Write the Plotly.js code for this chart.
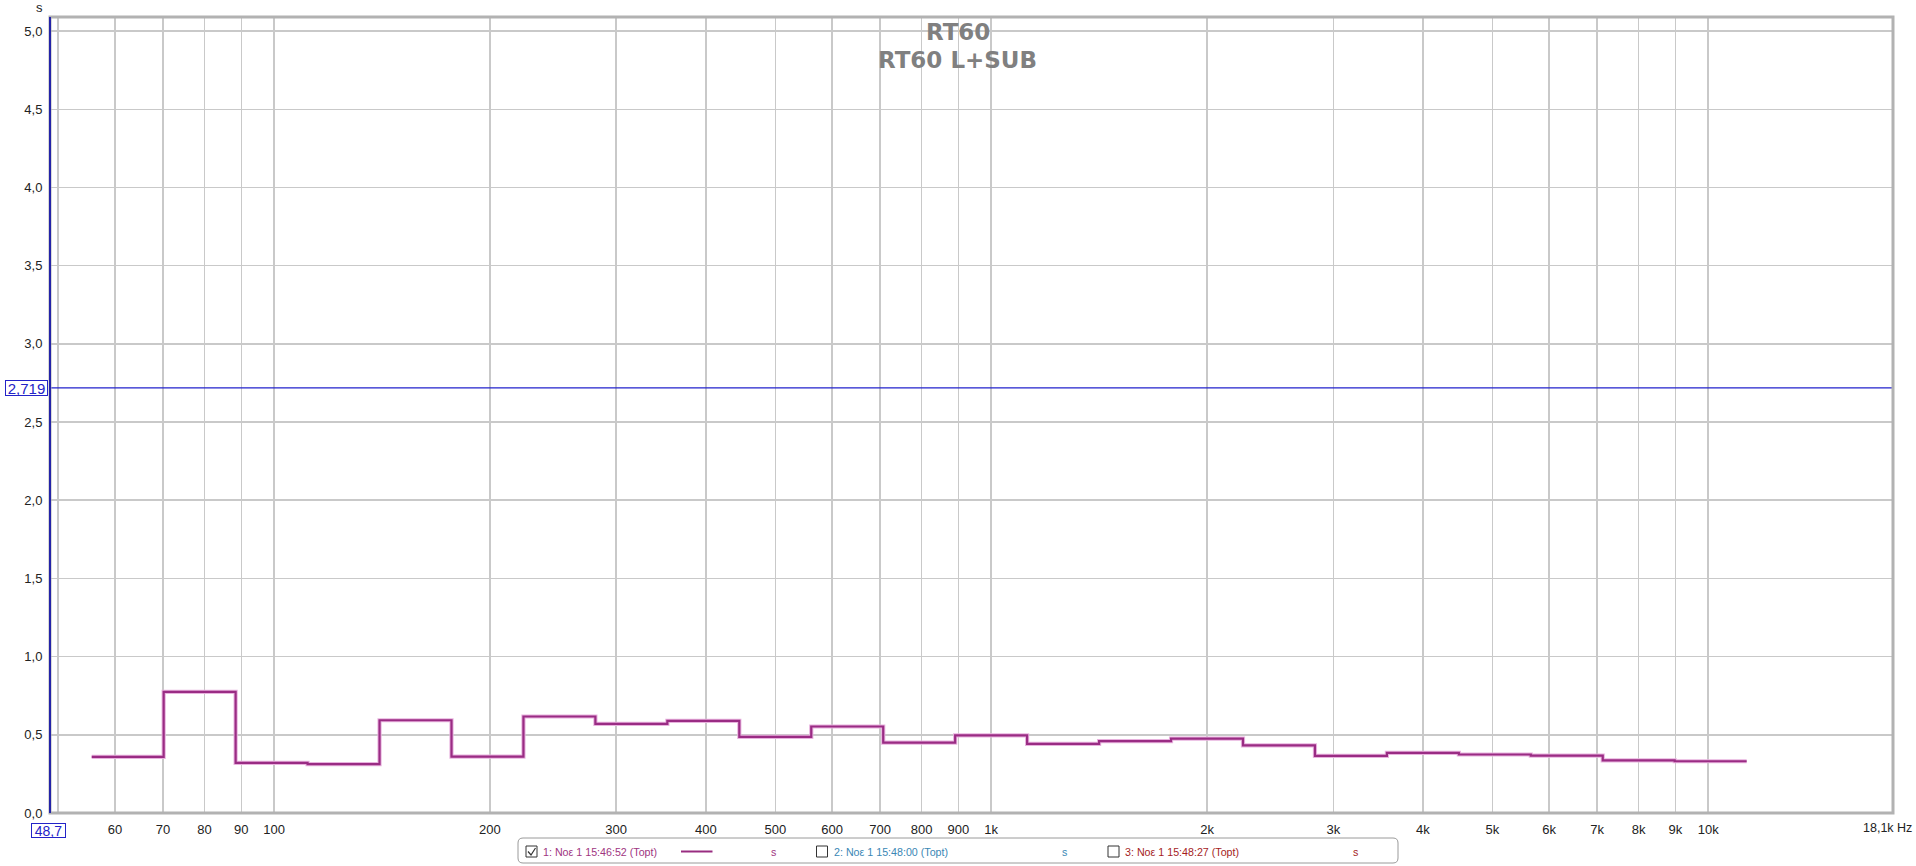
<!DOCTYPE html>
<html>
<head>
<meta charset="utf-8">
<script src="https://cdn.plot.ly/plotly-3.0.1.min.js"></script>
<style>html,body{margin:0;padding:0;background:#fff;}#chart{width:1916px;height:866px;}</style>
</head>
<body>
<div id="chart"></div>
<script>
// Data (1/3-octave RT60 bands)
const bandEdgesHz = [55.68, 70.15, 88.39, 111.36, 140.31, 176.78, 222.72, 280.62, 353.55, 445.45, 561.23, 707.11, 890.90, 1122.46, 1414.21, 1781.80, 2244.92, 2828.43, 3563.59, 4489.85, 5656.85, 7127.19, 8979.70, 11313.71];
const rt60Seconds = [0.359, 0.774, 0.321, 0.312, 0.593, 0.361, 0.617, 0.570, 0.589, 0.487, 0.553, 0.450, 0.497, 0.442, 0.459, 0.476, 0.433, 0.365, 0.385, 0.374, 0.367, 0.337, 0.331];
const markerLevel = 2.719;
const xMin = 48.7, xMax = 18100;
const xTickVals = [50, 60, 70, 80, 90, 100, 200, 300, 400, 500, 600, 700, 800, 900, 1000, 2000, 3000, 4000, 5000, 6000, 7000, 8000, 9000, 10000];
const xTickText = ['', '60', '70', '80', '90', '100', '200', '300', '400', '500', '600', '700', '800', '900', '1k', '2k', '3k', '4k', '5k', '6k', '7k', '8k', '9k', '10k'];
const yTickVals = [0, 0.5, 1, 1.5, 2, 2.5, 3, 3.5, 4, 4.5, 5];
const yTickText = ['0,0', '0,5', '1,0', '1,5', '2,0', '2,5', '3,0', '3,5', '4,0', '4,5', '5,0'];
const legendNames = ['1: Noε 1 15:46:52 (Topt)', '2: Noε 1 15:48:00 (Topt)', '3: Noε 1 15:48:27 (Topt)'];
const titleLines = ['RT60', 'RT60 L+SUB'];

// geometry helpers (pixel -> paper)
const L = 50, T = 17, W = 1843, H = 796;
const px = x => (x - L) / W;
const py = y => (T + H - y) / H;

const stepY = rt60Seconds.concat([rt60Seconds[rt60Seconds.length - 1]]);

const traces = [
  {
    x: bandEdgesHz, y: stepY, type: 'scatter', mode: 'lines',
    line: {shape: 'hv', color: '#e8b2de', width: 4.2},
    hoverinfo: 'skip', showlegend: false
  },
  {
    x: bandEdgesHz, y: stepY, type: 'scatter', mode: 'lines',
    line: {shape: 'hv', color: '#9a2c84', width: 2.2},
    hoverinfo: 'skip', showlegend: false
  },
  {
    x: [xMin, xMax], y: [markerLevel, markerLevel], type: 'scatter', mode: 'lines',
    line: {color: '#2222cc', width: 1.2}, hoverinfo: 'skip', showlegend: false
  }
];

function roundRect(x0, y0, x1, y1, r) {
  const p = (x, y) => px(x) + ',' + py(y);
  return 'M' + p(x0 + r, y0) + ' L' + p(x1 - r, y0) + ' Q' + p(x1, y0) + ' ' + p(x1, y0 + r) +
    ' L' + p(x1, y1 - r) + ' Q' + p(x1, y1) + ' ' + p(x1 - r, y1) +
    ' L' + p(x0 + r, y1) + ' Q' + p(x0, y1) + ' ' + p(x0, y1 - r) +
    ' L' + p(x0, y0 + r) + ' Q' + p(x0, y0) + ' ' + p(x0 + r, y0) + ' Z';
}
function box(x0, y0, x1, y1, color, width) {
  return {type: 'rect', xref: 'paper', yref: 'paper', x0: px(x0), x1: px(x1), y0: py(y1), y1: py(y0),
          line: {color: color, width: width}, fillcolor: 'rgba(255,255,255,0)', layer: 'above'};
}

const legendY = 851.5;
const shapes = [
  // plot frame
  {type: 'rect', xref: 'paper', yref: 'paper', x0: 0, x1: 1, y0: 0, y1: 1,
   line: {color: '#b2b2b2', width: 3}, layer: 'above'},
  // blue left axis
  {type: 'line', xref: 'paper', yref: 'paper', x0: 0, x1: 0, y0: 0, y1: 1,
   line: {color: '#2424a8', width: 2}, layer: 'above'},
  // legend box
  {type: 'path', xref: 'paper', yref: 'paper', path: roundRect(518, 838, 1398, 863, 5),
   line: {color: '#9a9a9a', width: 1}, fillcolor: '#ffffff', layer: 'above'},
  // checkboxes
  box(526, 846, 537, 857, '#333333', 1),
  box(816.5, 846, 827.5, 857, '#333333', 1),
  box(1108, 846, 1119, 857, '#333333', 1),
  // check mark
  {type: 'path', xref: 'paper', yref: 'paper',
   path: 'M' + px(528) + ',' + py(851.5) + ' L' + px(531) + ',' + py(855) + ' L' + px(535.5) + ',' + py(848),
   line: {color: '#333333', width: 1.2}, layer: 'above'},
  // legend line sample
  {type: 'line', xref: 'paper', yref: 'paper', x0: px(681), x1: px(712.5), y0: py(legendY), y1: py(legendY),
   line: {color: '#982c80', width: 2}, layer: 'above'}
];

const legFont = {family: 'Liberation Sans, Arial, sans-serif', size: 10.7};
const annotations = [
  {text: titleLines[0], xref: 'paper', yref: 'paper', x: px(958), y: py(32), xanchor: 'center', yanchor: 'middle',
   showarrow: false, font: {family: 'DejaVu Sans', size: 23, color: '#808080', weight: 'bold'}},
  {text: titleLines[1], xref: 'paper', yref: 'paper', x: px(957), y: py(59.5), xanchor: 'center', yanchor: 'middle',
   showarrow: false, font: {family: 'DejaVu Sans', size: 23, color: '#808080', weight: 'bold'}},
  {text: 's', xref: 'paper', yref: 'paper', x: px(39), y: py(7), xanchor: 'center', yanchor: 'middle',
   showarrow: false, font: {family: 'Liberation Sans, Arial', size: 13, color: '#222'}},
  {text: '18,1k Hz', xref: 'paper', yref: 'paper', x: px(1914), y: py(828), xanchor: 'right', yanchor: 'middle',
   showarrow: false, font: {family: 'Liberation Sans, Arial', size: 12.5, color: '#222'}},
  {text: '2,719', xref: 'paper', yref: 'y', x: px(26.5), y: markerLevel, xanchor: 'center', yanchor: 'middle',
   showarrow: false, font: {family: 'Liberation Sans, Arial', size: 15, color: '#2323c8'},
   width: 41, height: 14, align: 'center', valign: 'middle',
   bordercolor: '#2323c8', borderwidth: 1, borderpad: 0, bgcolor: '#ffffff'},
  {text: '48,7', xref: 'paper', yref: 'paper', x: px(48.5), y: py(830), xanchor: 'center', yanchor: 'middle',
   showarrow: false, font: {family: 'Liberation Sans, Arial', size: 14, color: '#2323c8'},
   width: 33, height: 13, align: 'center', valign: 'middle',
   bordercolor: '#2323c8', borderwidth: 1, borderpad: 0, bgcolor: '#ffffff'},
  {text: legendNames[0], xref: 'paper', yref: 'paper', x: px(541), y: py(legendY), xanchor: 'left', yanchor: 'middle',
   showarrow: false, font: Object.assign({color: '#a0357f'}, legFont)},
  {text: 's', xref: 'paper', yref: 'paper', x: px(773.5), y: py(legendY), xanchor: 'center', yanchor: 'middle',
   showarrow: false, font: Object.assign({color: '#a0357f'}, legFont)},
  {text: legendNames[1], xref: 'paper', yref: 'paper', x: px(832), y: py(legendY), xanchor: 'left', yanchor: 'middle',
   showarrow: false, font: Object.assign({color: '#3a87b5'}, legFont)},
  {text: 's', xref: 'paper', yref: 'paper', x: px(1064), y: py(legendY), xanchor: 'center', yanchor: 'middle',
   showarrow: false, font: Object.assign({color: '#3a87b5'}, legFont)},
  {text: legendNames[2], xref: 'paper', yref: 'paper', x: px(1123), y: py(legendY), xanchor: 'left', yanchor: 'middle',
   showarrow: false, font: Object.assign({color: '#a51d1d'}, legFont)},
  {text: 's', xref: 'paper', yref: 'paper', x: px(1355.5), y: py(legendY), xanchor: 'center', yanchor: 'middle',
   showarrow: false, font: Object.assign({color: '#a51d1d'}, legFont)}
];

const layout = {
  width: 1916, height: 866, autosize: false,
  margin: {l: L, r: 1916 - L - W, t: T, b: 866 - T - H, pad: 0},
  paper_bgcolor: '#ffffff', plot_bgcolor: '#ffffff',
  showlegend: false,
  font: {family: 'Liberation Sans, Arial, sans-serif', size: 13, color: '#222'},
  xaxis: {
    type: 'log', range: [Math.log10(xMin), Math.log10(xMax)],
    tickvals: xTickVals, ticktext: xTickText,
    showgrid: true, gridcolor: '#c9c9c9', gridwidth: 1.5,
    zeroline: false, showline: false,
    ticks: 'outside', ticklen: 4, tickcolor: 'rgba(0,0,0,0)',
    tickfont: {family: 'Liberation Sans, Arial', size: 13, color: '#222'}
  },
  yaxis: {
    range: [0, 5.09],
    tickvals: yTickVals, ticktext: yTickText,
    showgrid: true, gridcolor: '#c9c9c9', gridwidth: 1.5,
    zeroline: false, showline: false,
    ticks: 'outside', ticklen: 4, tickcolor: 'rgba(0,0,0,0)',
    tickfont: {family: 'Liberation Sans, Arial', size: 13, color: '#222'}
  },
  shapes: shapes,
  annotations: annotations
};

Plotly.newPlot('chart', traces, layout, {displayModeBar: false, staticPlot: true});
</script>
</body>
</html>
